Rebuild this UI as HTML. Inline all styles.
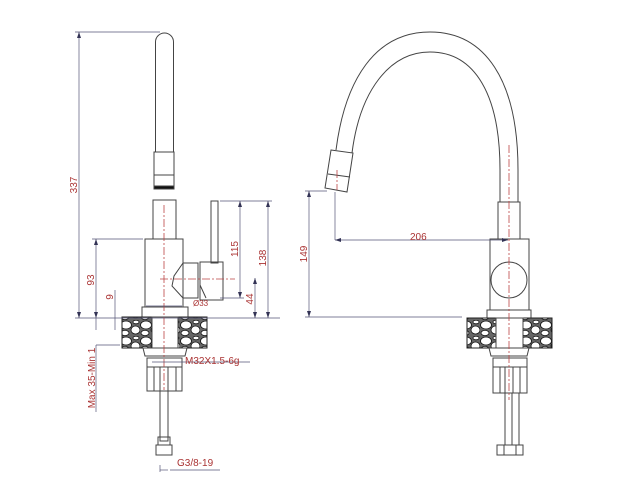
<!DOCTYPE html>
<html><head><style>body{margin:0;background:#fff}svg{display:block}</style></head><body>
<svg width="625" height="500" viewBox="0 0 625 500" xmlns="http://www.w3.org/2000/svg" font-family="Liberation Sans, sans-serif">
<defs>
<pattern id="st" width="20" height="16" patternUnits="userSpaceOnUse">
<rect width="20" height="16" fill="#666"/>
<ellipse cx="6" cy="5" rx="5.5" ry="4" fill="#fff" stroke="#111" stroke-width="0.8"/>
<ellipse cx="15.5" cy="10" rx="4.5" ry="4" fill="#fff" stroke="#111" stroke-width="0.8"/>
<ellipse cx="5" cy="13" rx="4" ry="2.6" fill="#fff" stroke="#111" stroke-width="0.8"/>
<ellipse cx="16" cy="2" rx="3" ry="1.8" fill="#fff" stroke="#111" stroke-width="0.8"/>
</pattern>
</defs>
<g fill="none" stroke="#444" stroke-width="1">
<path d="M155.5 152 V42 A9 9 0 0 1 173.5 42 V152"/>
<rect x="154" y="152" width="20" height="34"/>
<line x1="154" y1="175" x2="174" y2="175"/>
<rect x="154" y="186" width="20" height="3" fill="#111"/>
<rect x="153" y="200" width="23" height="39"/>
<rect x="145" y="239" width="38" height="68"/>
<path d="M183 263 H198 V298 H183"/>
<path d="M183 263 L174 276 L172 286 L183 298"/>
<rect x="211" y="201" width="7" height="62"/>
<rect x="200" y="262" width="23" height="38"/>
<path d="M200 285 L206 298"/>
<rect x="142" y="307" width="46" height="11"/>
<rect x="122" y="317" width="85" height="31" fill="url(#st)" stroke="#222"/>
<rect x="152" y="317" width="26" height="31" fill="#fff"/>
<path d="M143 348 H187 L185 356 H145 Z"/>
<rect x="147" y="358" width="35" height="9"/>
<rect x="147" y="367" width="35" height="24"/>
<line x1="154" y1="367" x2="154" y2="391"/><line x1="176" y1="367" x2="176" y2="391"/>
<rect x="160" y="367" width="8" height="24"/>
<rect x="160" y="391" width="8" height="50"/>
<rect x="158" y="437" width="12" height="8"/>
<rect x="156" y="445" width="16" height="10"/>
<path d="M518 202 V170 C518 80 485 32 430 32 C375 32 345 80 336 150"/>
<path d="M500 202 V170 C500 95 475 52 430 52 C390 52 360 90 352 153"/>
<path d="M331 150 L353 153 L347 192 L325 188 Z"/>
<line x1="328" y1="174" x2="350" y2="177"/>
<rect x="498" y="202" width="22" height="37"/>
<rect x="490" y="239" width="39" height="71"/>
<circle cx="509" cy="280" r="18"/>
<rect x="487" y="310" width="44" height="8"/>
<rect x="467" y="318" width="85" height="30" fill="url(#st)" stroke="#222"/>
<rect x="496" y="318" width="27" height="30" fill="#fff"/>
<path d="M489 348 H529 L527 356 H491 Z"/>
<rect x="493" y="358" width="34" height="9"/>
<rect x="493" y="367" width="34" height="26"/>
<line x1="500" y1="367" x2="500" y2="393"/><line x1="520" y1="367" x2="520" y2="393"/>
<rect x="505" y="367" width="8" height="26"/>
<rect x="505" y="393" width="7" height="52"/><rect x="512" y="393" width="7" height="52"/>
<rect x="497" y="445" width="26" height="10"/>
<line x1="504" y1="445" x2="504" y2="455"/><line x1="516" y1="445" x2="516" y2="455"/>
</g>
<g stroke="#b44" stroke-width="0.8" stroke-dasharray="8 2 2 2" fill="none">
<line x1="164" y1="205" x2="164" y2="390"/>
<line x1="160" y1="279" x2="235" y2="279"/>
<line x1="509" y1="145" x2="509" y2="400"/>
<line x1="337" y1="170" x2="337" y2="190"/>
</g>
<g stroke="#557" stroke-width="0.7" fill="none">
<line x1="79" y1="32" x2="79" y2="318"/><line x1="75" y1="32" x2="160" y2="32"/>
<line x1="96" y1="239" x2="96" y2="330"/><line x1="92" y1="239" x2="143" y2="239"/>
<line x1="115" y1="290" x2="115" y2="330"/>
<line x1="75" y1="318" x2="280" y2="318"/>
<line x1="240" y1="201" x2="240" y2="298"/><line x1="220" y1="201" x2="272" y2="201"/>
<line x1="268" y1="201" x2="268" y2="318"/>
<line x1="255" y1="278" x2="255" y2="318"/>
<line x1="220" y1="298" x2="244" y2="298"/>
<line x1="146" y1="306" x2="182" y2="306"/>
<line x1="96" y1="345" x2="120" y2="345"/><line x1="96" y1="345" x2="96" y2="412"/>
<line x1="152" y1="362" x2="178" y2="362"/><line x1="178" y1="362" x2="250" y2="362"/>
<line x1="160" y1="470" x2="168" y2="470"/><line x1="160" y1="465" x2="160" y2="472"/><line x1="170" y1="470" x2="220" y2="470"/>
<line x1="309" y1="191" x2="309" y2="317"/><line x1="305" y1="191" x2="327" y2="191"/>
<line x1="305" y1="317" x2="462" y2="317"/>
<line x1="335" y1="192" x2="335" y2="240"/><line x1="335" y1="240" x2="508" y2="240"/>
</g>
<g fill="#335">
<path d="M79 32 l-2 6 h4z"/><path d="M79 318 l-2 -6 h4z"/>
<path d="M96 239 l-2 6 h4z"/><path d="M96 318 l-2 -6 h4z"/>
<path d="M240 201 l-2 6 h4z"/><path d="M240 298 l-2 -6 h4z"/>
<path d="M268 201 l-2 6 h4z"/><path d="M268 318 l-2 -6 h4z"/>
<path d="M255 278 l-2 6 h4z"/><path d="M255 318 l-2 -6 h4z"/>
<path d="M309 191 l-2 6 h4z"/><path d="M309 317 l-2 -6 h4z"/>
<path d="M335 240 l6 -2 v4z"/><path d="M508 240 l-6 -2 v4z"/>
</g>
<g fill="#a33" font-size="10">
<text transform="translate(77,185) rotate(-90)" text-anchor="middle">337</text>
<text transform="translate(94,280) rotate(-90)" text-anchor="middle">93</text>
<text transform="translate(113,297) rotate(-90)" text-anchor="middle">9</text>
<text transform="translate(238,249) rotate(-90)" text-anchor="middle">115</text>
<text transform="translate(266,258) rotate(-90)" text-anchor="middle">138</text>
<text transform="translate(253,299) rotate(-90)" text-anchor="middle">44</text>
<text x="193" y="306" font-size="8">Ø33</text>
<text transform="translate(95,378) rotate(-90)" text-anchor="middle">Max 35-Min 1</text>
<text x="185" y="364">M32X1.5-6g</text>
<text x="177" y="466">G3/8-19</text>
<text transform="translate(307,254) rotate(-90)" text-anchor="middle">149</text>
<text x="410" y="240">206</text>
</g>
</svg>
</body></html>
